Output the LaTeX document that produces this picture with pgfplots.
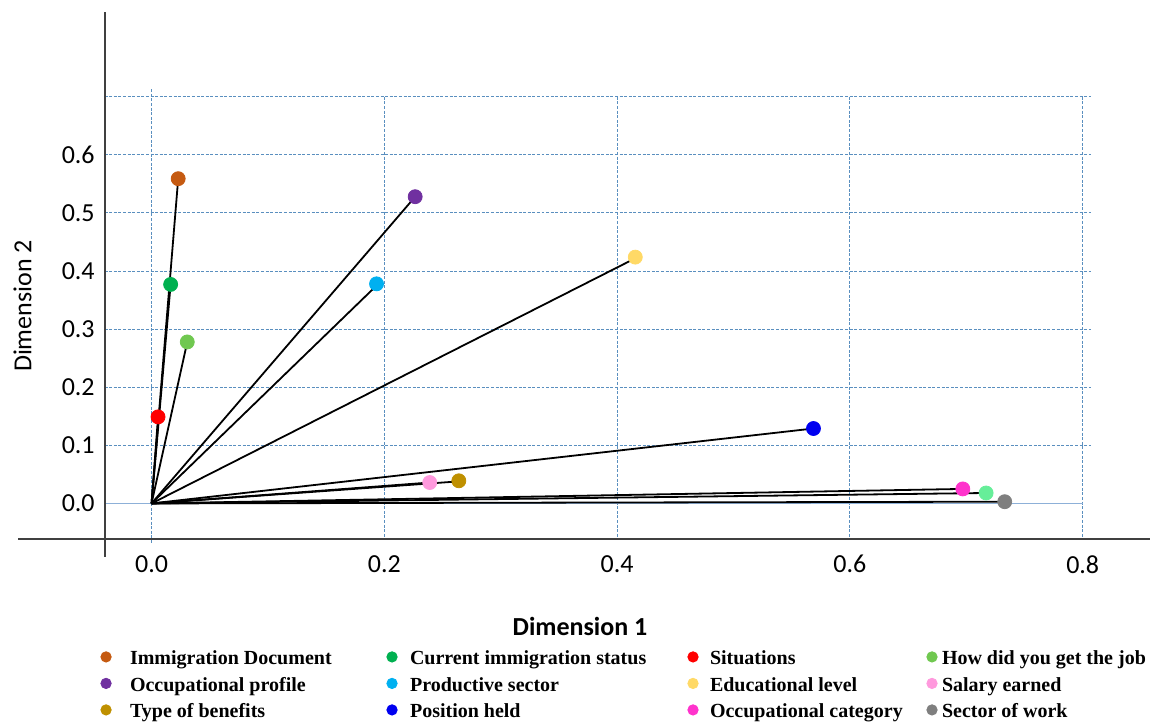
\documentclass[border=0pt]{standalone}
\usepackage{fontspec}
\setmainfont{Carlito}
\newfontfamily\legfont{Liberation Serif}
\usepackage{pgfplots}
\pgfplotsset{compat=1.18}
\definecolor{cImm}{HTML}{C55A11}
\definecolor{cCur}{HTML}{00B050}
\definecolor{cSit}{HTML}{FF0000}
\definecolor{cHow}{HTML}{70C850}
\definecolor{cOcc}{HTML}{7030A0}
\definecolor{cPro}{HTML}{00B0F0}
\definecolor{cEdu}{HTML}{FFD966}
\definecolor{cSal}{HTML}{FF99DD}
\definecolor{cTyp}{HTML}{BF9000}
\definecolor{cPos}{HTML}{0000F0}
\definecolor{cCat}{HTML}{FF33CC}
\definecolor{cSec}{HTML}{7F7F7F}
\definecolor{cMint}{HTML}{66EE99}
\definecolor{gridblue}{HTML}{5A8FBF}
\definecolor{zeroblue}{HTML}{8DB0D8}
\definecolor{axisgray}{HTML}{404040}
\begin{document}
\begin{tikzpicture}
\begin{axis}[
  scale only axis, width=522.75bp, height=263.5bp,
  xmin=-0.0404, xmax=0.8578, ymin=-0.0611, ymax=0.846,
  clip=false,
  axis line style={draw=none},
  major tick length=0pt,
  xtick={0,0.2,0.4,0.6,0.8}, ytick={0,0.1,0.2,0.3,0.4,0.5,0.6},
  scaled ticks=false,
  /pgf/number format/fixed, /pgf/number format/fixed zerofill,
  /pgf/number format/precision=1, /pgf/number format/assume math mode=true,
  tick label style={font=\fontsize{13bp}{15bp}\selectfont, text=black},
  yticklabel style={xshift=-1.4bp},
  xticklabel style={yshift=-4.7bp},
  xlabel={\bfseries Dimension 1},
  xlabel style={at={(axis description cs:0.4548,-0.167)}, anchor=center, font=\fontsize{13bp}{15bp}\selectfont},
  ylabel={Dimension 2},
  ylabel style={at={(axis description cs:-0.0784,0.442)}, anchor=center, font=\fontsize{13bp}{15bp}\selectfont},
  legend columns=4,
  legend cell align=left,
  legend image code/.code={\path[draw=none,fill=none] (-5bp,0bp) -- (5bp,0bp); \fill[#1] (0bp,0bp) circle (2.6bp);},
  legend style={draw=none, fill=none, inner sep=0pt, outer sep=0pt, column sep=0pt, row sep=5.25bp,
    at={(-0.0081,-0.2087)}, anchor=north west,
    font=\legfont\bfseries\fontsize{10bp}{12bp}\selectfont,
    nodes={inner sep=0pt, text height=8bp, text depth=0bp}},
]
% grid lines
\addplot[gridblue, line width=0.5bp, dash pattern=on 1.5bp off 0.8bp, forget plot] coordinates {(-0.0404,0.1) (0.807,0.1)};
\addplot[gridblue, line width=0.5bp, dash pattern=on 1.5bp off 0.8bp, forget plot] coordinates {(-0.0404,0.2) (0.807,0.2)};
\addplot[gridblue, line width=0.5bp, dash pattern=on 1.5bp off 0.8bp, forget plot] coordinates {(-0.0404,0.3) (0.807,0.3)};
\addplot[gridblue, line width=0.5bp, dash pattern=on 1.5bp off 0.8bp, forget plot] coordinates {(-0.0404,0.4) (0.807,0.4)};
\addplot[gridblue, line width=0.5bp, dash pattern=on 1.5bp off 0.8bp, forget plot] coordinates {(-0.0404,0.5) (0.807,0.5)};
\addplot[gridblue, line width=0.5bp, dash pattern=on 1.5bp off 0.8bp, forget plot] coordinates {(-0.0404,0.6) (0.807,0.6)};
\addplot[gridblue, line width=0.5bp, dash pattern=on 1.5bp off 0.8bp, forget plot] coordinates {(-0.0404,0.7) (0.807,0.7)};
\addplot[gridblue, line width=0.5bp, dash pattern=on 1.5bp off 0.8bp, forget plot] coordinates {(0,0.713) (0,-0.068)};
\addplot[gridblue, line width=0.5bp, dash pattern=on 1.5bp off 0.8bp, forget plot] coordinates {(0.2,0.7) (0.2,-0.061)};
\addplot[gridblue, line width=0.5bp, dash pattern=on 1.5bp off 0.8bp, forget plot] coordinates {(0.4,0.7) (0.4,-0.061)};
\addplot[gridblue, line width=0.5bp, dash pattern=on 1.5bp off 0.8bp, forget plot] coordinates {(0.6,0.7) (0.6,-0.061)};
\addplot[gridblue, line width=0.5bp, dash pattern=on 1.5bp off 0.8bp, forget plot] coordinates {(0.8,0.7) (0.8,-0.061)};
\addplot[zeroblue, line width=0.8bp, forget plot] coordinates {(-0.0404,0) (0.8,0)};
% axis lines
\addplot[axisgray, line width=1bp, forget plot] coordinates {(-0.1147,-0.0611) (0.8578,-0.0611)};
\addplot[axisgray, line width=1bp, forget plot] coordinates {(-0.0404,-0.0921) (-0.0404,0.846)};
% vectors
\addplot[black, line width=0.9bp, forget plot] coordinates {(0,0) (0.0229,0.559)};
\addplot[black, line width=0.9bp, forget plot] coordinates {(0,0) (0.0164,0.377)};
\addplot[black, line width=0.9bp, forget plot] coordinates {(0,0) (0.0056,0.149)};
\addplot[black, line width=0.9bp, forget plot] coordinates {(0,0) (0.0307,0.278)};
\addplot[black, line width=0.9bp, forget plot] coordinates {(0,0) (0.2265,0.528)};
\addplot[black, line width=0.9bp, forget plot] coordinates {(0,0) (0.1933,0.375)};
\addplot[black, line width=0.9bp, forget plot] coordinates {(0,0) (0.4156,0.422)};
\addplot[black, line width=0.9bp, forget plot] coordinates {(0,0) (0.239,0.036)};
\addplot[black, line width=0.9bp, forget plot] coordinates {(0,0) (0.264,0.038)};
\addplot[black, line width=0.9bp, forget plot] coordinates {(0,0) (0.5687,0.129)};
\addplot[black, line width=0.9bp, forget plot] coordinates {(0,0) (0.697,0.025)};
\addplot[black, line width=0.9bp, forget plot] coordinates {(0,0) (0.733,0.003)};
\addplot[black, line width=0.9bp, forget plot] coordinates {(0,0) (0.717,0.018)};
% points
\addplot[only marks, mark=*, mark size=3.5bp, color=cImm] coordinates {(0.0229,0.559)};
\addlegendentry{\makebox[133bp][l]{\hspace{7bp}Immigration Document}}
\addplot[only marks, mark=*, mark size=3.5bp, color=cCur] coordinates {(0.0164,0.377)};
\addlegendentry{\makebox[140.5bp][l]{\hspace{4bp}Current immigration status}}
\addplot[only marks, mark=*, mark size=3.5bp, color=cSit] coordinates {(0.0056,0.149)};
\addlegendentry{\makebox[109.5bp][l]{\hspace{3.5bp}Situations}}
\addplot[only marks, mark=*, mark size=3.5bp, color=cHow] coordinates {(0.0307,0.278)};
\addlegendentry{\makebox[104bp][l]{How did you get the job}}
\addplot[only marks, mark=*, mark size=3.5bp, color=cOcc] coordinates {(0.2265,0.528)};
\addlegendentry{\makebox[133bp][l]{\hspace{7bp}Occupational profile}}
\addplot[only marks, mark=*, mark size=3.5bp, color=cPro] coordinates {(0.1933,0.378)};
\addlegendentry{\makebox[140.5bp][l]{\hspace{4bp}Productive sector}}
\addplot[only marks, mark=*, mark size=3.5bp, color=cEdu] coordinates {(0.4156,0.424)};
\addlegendentry{\makebox[109.5bp][l]{\hspace{3.5bp}Educational level}}
\addplot[only marks, mark=*, mark size=3.5bp, color=cSal] coordinates {(0.239,0.036)};
\addlegendentry{\makebox[104bp][l]{Salary earned}}
\addplot[only marks, mark=*, mark size=3.5bp, color=cTyp] coordinates {(0.264,0.039)};
\addlegendentry{\makebox[133bp][l]{\hspace{7bp}Type of benefits}}
\addplot[only marks, mark=*, mark size=3.5bp, color=cPos] coordinates {(0.5687,0.129)};
\addlegendentry{\makebox[140.5bp][l]{\hspace{4bp}Position held}}
\addplot[only marks, mark=*, mark size=3.5bp, color=cCat] coordinates {(0.697,0.025)};
\addlegendentry{\makebox[109.5bp][l]{\hspace{3.5bp}Occupational category}}
\addplot[only marks, mark=*, mark size=3.5bp, color=cSec] coordinates {(0.733,0.003)};
\addlegendentry{\makebox[104bp][l]{Sector of work}}
\addplot[only marks, mark=*, mark size=3.5bp, color=cMint, forget plot] coordinates {(0.717,0.018)};
\coordinate (BL) at (axis cs:-0.1302,-0.3812);
\coordinate (TR) at (axis cs:0.8604,0.8666);
\end{axis}
\pgfresetboundingbox
\useasboundingbox (BL) rectangle (TR);
\end{tikzpicture}
\end{document}
